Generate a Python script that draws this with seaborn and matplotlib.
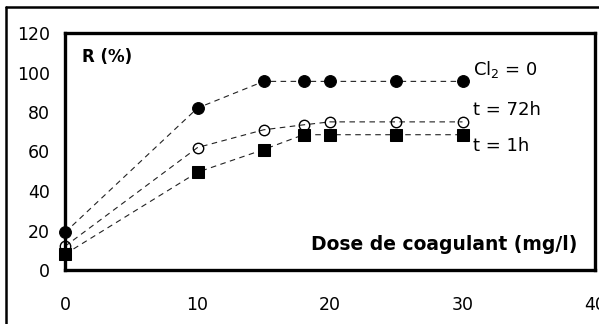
import matplotlib
matplotlib.use("Agg")
import matplotlib.pyplot as plt
import seaborn as sns
import pandas as pd
from matplotlib.lines import Line2D

# Données
dose = [0, 10, 15, 18, 20, 25, 30]
r_cl2_0 = [19, 82, 95.5, 95.5, 95.5, 95.5, 95.5]
r_72h = [12, 62, 71, 73.5, 75, 75, 75]
r_1h = [8, 49.5, 61, 68.5, 68.5, 68.5, 68.5]

series_labels = ["Cl$_2$ = 0", "t = 72h", "t = 1h"]
x_ticks = [0, 10, 20, 30, 40]
y_ticks = [0, 20, 40, 60, 80, 100, 120]

sns.set_theme(style="white")
plt.rcParams["font.family"] = ["DejaVu Sans"]
plt.rcParams["mathtext.fontset"] = "dejavusans"
plt.rcParams["text.color"] = "black"

W, H = 599, 324
fig = plt.figure(figsize=(W / 100, H / 100), dpi=100)
ax = fig.add_axes([65 / W, (H - 270) / H, 530 / W, 237 / H])

df = pd.DataFrame({"dose": dose, "a": r_cl2_0, "b": r_72h, "c": r_1h})

line_kw = dict(color="#222222", linestyle=(0, (5, 4)), linewidth=0.8, clip_on=False)
sns.lineplot(data=df, x="dose", y="a", ax=ax, marker="o", markersize=8.5,
             markerfacecolor="black", markeredgecolor="black", **line_kw)
sns.lineplot(data=df, x="dose", y="b", ax=ax, marker="o", markersize=7.5,
             markerfacecolor="none", markeredgecolor="black", markeredgewidth=1.0, **line_kw)
sns.lineplot(data=df, x="dose", y="c", ax=ax, marker="s", markersize=8,
             markerfacecolor="black", markeredgecolor="black", **line_kw)

ax.set_xlim(0, 40)
ax.set_ylim(0, 120)
ax.set_xticks(x_ticks)
ax.set_yticks(y_ticks)
ax.set_xlabel("")
ax.set_ylabel("")
for s in ax.spines.values():
    s.set_visible(True)
    s.set_color("black")
    s.set_linewidth(2.4)
ax.tick_params(axis="both", direction="out", length=5, width=1, color="#666666",
               labelsize=12.5, labelcolor="black")
ax.tick_params(axis="x", pad=14)
ax.tick_params(axis="y", pad=6)

ax.text(1.3, 108, "R (%)", fontsize=12, fontweight="bold", va="center", ha="left")
ax.text(38.7, 12.7, "Dose de coagulant (mg/l)", fontsize=13.5, fontweight="bold",
        va="center", ha="right")
ax.text(30.8, 101.5, series_labels[0], fontsize=13, va="center", ha="left")
ax.text(30.8, 81, series_labels[1], fontsize=13, va="center", ha="left")
ax.text(30.8, 63, series_labels[2], fontsize=13, va="center", ha="left")

# cadre extérieur
fig.add_artist(Line2D([6 / W, 1.0], [(H - 7) / H, (H - 7) / H], color="black", linewidth=1.8))
fig.add_artist(Line2D([6 / W, 6 / W], [0.0, (H - 7) / H], color="black", linewidth=1.8))

fig.savefig("out.png", dpi=100)
